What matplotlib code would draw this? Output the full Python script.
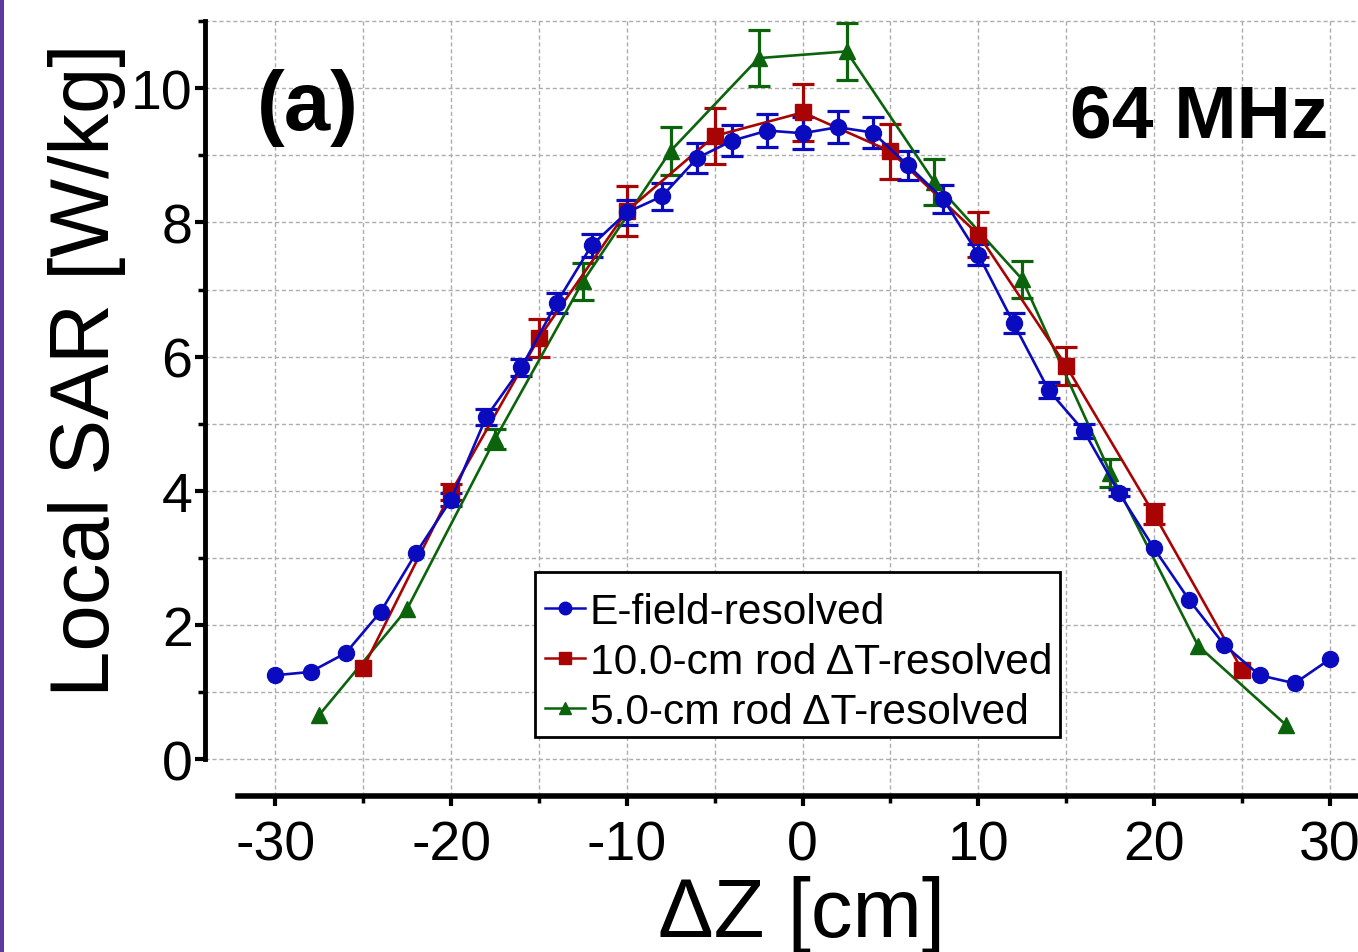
import matplotlib

matplotlib.use("Agg")
import matplotlib.pyplot as plt
from matplotlib.patches import Rectangle
from matplotlib.lines import Line2D
import numpy as np

plt.rcParams["font.family"] = ["Liberation Sans", "DejaVu Sans"]
plt.rcParams["axes.unicode_minus"] = False

# E-field-resolved
z_efield = [-30, -28, -26, -24, -22, -20, -18, -16, -14, -12, -10, -8, -6, -4, -2, 0,
            2, 4, 6, 8, 10, 12, 14, 16, 18, 20, 22, 24, 26, 28, 30]
sar_efield = [1.25, 1.30, 1.58, 2.20, 3.07, 3.87, 5.10, 5.84, 6.80, 7.66, 8.15, 8.39, 8.96,
              9.22, 9.37, 9.33, 9.42, 9.34, 8.85, 8.35, 7.52, 6.50, 5.50, 4.89, 3.97, 3.14,
              2.37, 1.70, 1.25, 1.13, 1.49]
err_efield = [0, 0, 0, 0, 0, 0.10, 0.12, 0.13, 0.15, 0.17, 0.19, 0.20, 0.22,
              0.23, 0.24, 0.24, 0.24, 0.23, 0.22, 0.21, 0.16, 0.15, 0.12, 0.10, 0.05, 0,
              0, 0, 0, 0, 0]

# 10.0-cm rod dT-resolved
z_rod10 = [-25, -20, -15, -10, -5, 0, 5, 10, 15, 20, 25]
sar_rod10 = [1.36, 3.98, 6.28, 8.17, 9.29, 9.64, 9.06, 7.82, 5.86, 3.65, 1.33]
err_rod10 = [0, 0.12, 0.28, 0.37, 0.42, 0.43, 0.41, 0.34, 0.28, 0.15, 0]

# 5.0-cm rod dT-resolved
z_rod5 = [-27.5, -22.5, -17.5, -12.5, -7.5, -2.5, 2.5, 7.5, 12.5, 17.5, 22.5, 27.5]
sar_rod5 = [0.66, 2.24, 4.77, 7.12, 9.07, 10.45, 10.55, 8.60, 7.15, 4.27, 1.69, 0.51]
err_rod5 = [0, 0, 0.15, 0.27, 0.36, 0.42, 0.42, 0.34, 0.28, 0.21, 0, 0]

BLUE = "#0A0ABE"
RED = "#A80404"
GREEN = "#0B640B"

fig = plt.figure(figsize=(13.58, 9.53), dpi=100)
ax = fig.add_axes([0.151, 0.1637, 0.849, 0.8165])

series = [
    (z_rod5, sar_rod5, err_rod5, GREEN, "^"),
    (z_rod10, sar_rod10, err_rod10, RED, "s"),
    (z_efield, sar_efield, err_efield, BLUE, "o"),
]
for z, sar, err, color, marker in series:
    z = np.array(z)
    sar = np.array(sar)
    err = np.array(err)
    has_err = err > 0
    ax.errorbar(z[has_err], sar[has_err], yerr=err[has_err], fmt="none", ecolor=color,
                elinewidth=2.3, capsize=8, capthick=2.3, zorder=3)
    ax.plot(z, sar, color=color, marker=marker, markersize=11.5, linewidth=1.9, zorder=4)

ax.set_xlim(-34, 31.6)
ax.set_ylim(-0.55, 11.05)

ax.set_xticks(np.arange(-30, 31, 10))
ax.set_xticks(np.arange(-25, 30, 10), minor=True)
ax.set_yticks(np.arange(0, 11, 2))
ax.set_yticks(np.arange(1, 12, 2), minor=True)

ax.grid(True, which="both", color="#ADADAD", linestyle=(0, (3, 2)), linewidth=1.0)
ax.set_axisbelow(True)

for side in ["top", "right"]:
    ax.spines[side].set_visible(False)
ax.spines["left"].set_linewidth(3.5)
ax.spines["left"].set_bounds(0, 11)
ax.spines["bottom"].set_linewidth(4.0)
ax.spines["bottom"].set_bounds(-32.1, 31.6)

ax.tick_params(axis="both", which="major", labelsize=40, direction="out",
               length=7, width=3)
ax.tick_params(axis="both", which="minor", direction="out", length=5, width=2.5)
ax.tick_params(axis="x", which="major", pad=10)
ax.tick_params(axis="y", which="major", pad=2)

fig.text(87 / 1358, 1 - 370 / 953, "Local SAR [W/kg]", rotation=90,
         ha="center", va="center", fontsize=60)
fig.text(802 / 1358, 1 - 937 / 953, "\u0394Z [cm]", ha="center", va="baseline",
         fontsize=60)

fig.text(308 / 1358, 1 - 108 / 953, "(a)", ha="center", va="center",
         fontsize=60, fontweight="bold")
fig.text(1328 / 1358, 1 - 138 / 953, "64 MHz", ha="right", va="baseline",
         fontsize=54, fontweight="bold")

# legend: frame drawn separately to match the box of the original
fig.patches.append(Rectangle((535 / 1358, 1 - 738 / 953), 525 / 1358, 165 / 953,
                             transform=fig.transFigure, facecolor="white",
                             edgecolor="black", linewidth=2.0, zorder=5))
handles = [
    Line2D([], [], color=BLUE, marker="o", markersize=9, linewidth=1.8),
    Line2D([], [], color=RED, marker="s", markersize=9, linewidth=1.8),
    Line2D([], [], color=GREEN, marker="^", markersize=9, linewidth=1.8),
]
labels = ["E-field-resolved", "10.0-cm rod \u0394T-resolved", "5.0-cm rod \u0394T-resolved"]
leg = fig.legend(handles, labels, loc="upper left",
                 bbox_to_anchor=(545 / 1358, 1 - 593 / 953),
                 bbox_transform=fig.transFigure, fontsize=30.6, frameon=False,
                 handlelength=0.93, handletextpad=0.12, labelspacing=0.23,
                 borderpad=0, borderaxespad=0)
leg.set_zorder(6)

fig.patches.append(Rectangle((0, 0), 4 / 1358, 1, transform=fig.transFigure,
                             facecolor="#5E3A9E", edgecolor="none"))

fig.savefig("out.png", dpi=100)
